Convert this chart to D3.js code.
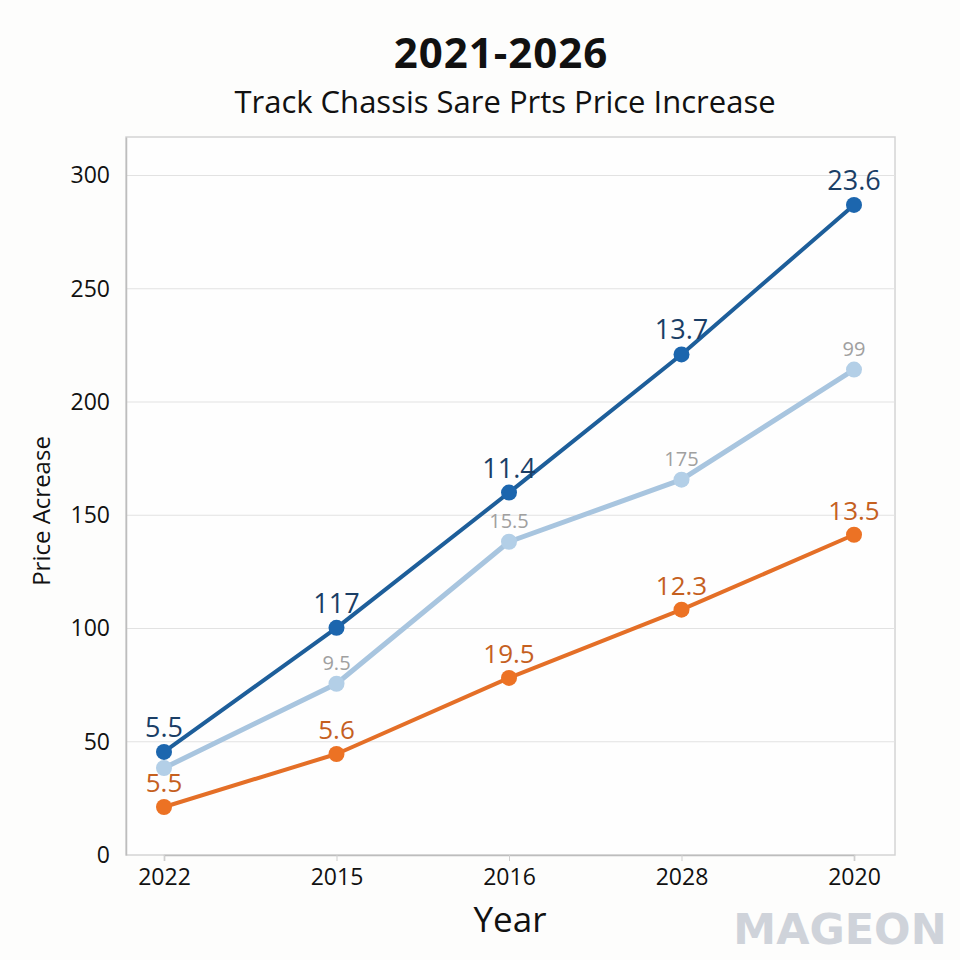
<!DOCTYPE html>
<html>
<head>
<meta charset="utf-8">
<script src="https://cdn.jsdelivr.net/npm/d3@7"></script>
<style>
  body { margin: 0; background: #fdfdfc; }
  svg { display: block; font-family: "Open Sans", "Noto Sans", sans-serif; }
</style>
</head>
<body>
<div id="chart"></div>
<script>
// categories on the x axis (as printed)
let years = ['2022', '2015', '2016', '2028', '2020']
let yTicks = [0, 50, 100, 150, 200, 250, 300]

// series values
let darkValues = [45.5, 100.3, 160, 221, 287]
let lightValues = [38.4, 75.6, 138.3, 165.7, 214.3]
let orangeValues = [21.2, 44.6, 78.2, 108.3, 141.4]

// printed point labels
let darkLabels = ['5.5', '117', '11.4', '13.7', '23.6']
let lightLabels = ['', '9.5', '15.5', '175', '99']
let orangeLabels = ['5.5', '5.6', '19.5', '12.3', '13.5']

let width = 960, height = 960
let margin = {left: 126, right: 65, top: 137, bottom: 105}
let plotW = width - margin.left - margin.right
let plotH = height - margin.top - margin.bottom
let font = '"Open Sans", "Noto Sans", sans-serif'

let svg = d3.select('#chart').append('svg')
    .attr('width', width)
    .attr('height', height)

svg.append('rect').attr('width', width).attr('height', height).attr('fill', '#fdfdfc')

let x = d3.scalePoint().domain(years).range([38, plotW - 41])
let y = d3.scaleLinear().domain([0, 317]).range([plotH, 0])

let g = svg.append('g').attr('transform', `translate(${margin.left},${margin.top})`)

// plot frame
g.append('rect')
    .attr('width', plotW).attr('height', plotH)
    .attr('fill', '#fefefe').attr('stroke', '#d4d4d4').attr('stroke-width', 1.5)

// gridlines
g.selectAll('.grid').data(yTicks.filter(d => d > 0)).enter().append('line')
    .attr('x1', 0).attr('x2', plotW)
    .attr('y1', d => y(d)).attr('y2', d => y(d))
    .attr('stroke', '#e2e2e2').attr('stroke-width', 1.2)

// y axis
let yAxis = g.append('g').call(d3.axisLeft(y).tickValues(yTicks).tickSize(0).tickPadding(16))
yAxis.attr('font-family', font)
yAxis.select('.domain').attr('stroke', '#bdbdbd').attr('stroke-width', 1.5)
yAxis.selectAll('text').attr('font-size', 23).attr('fill', '#111')

// x axis
let xAxis = g.append('g').attr('transform', `translate(0,${plotH})`)
    .call(d3.axisBottom(x).tickSize(6).tickPadding(8))
xAxis.attr('font-family', font)
xAxis.select('.domain').attr('stroke', '#bdbdbd').attr('stroke-width', 1.5)
xAxis.selectAll('.tick line').attr('stroke', '#cfcfcf')
xAxis.selectAll('text').attr('font-size', 23).attr('fill', '#111')

let series = [
    {values: lightValues, labels: lightLabels, line: '#a8c5df', dot: '#b3cfe7', text: '#a0a0a0', lw: 5, fs: 20, dy: 14},
    {values: orangeValues, labels: orangeLabels, line: '#e46f27', dot: '#ec7224', text: '#c5601f', lw: 4, fs: 26, dy: 15},
    {values: darkValues, labels: darkLabels, line: '#1d5e9a', dot: '#1c66ae', text: '#1a3e66', lw: 4, fs: 27, dy: 15}
]

let line = d3.line().x((d, i) => x(years[i])).y(d => y(d))

series.forEach(s => {
    g.append('path').datum(s.values)
        .attr('d', line)
        .attr('fill', 'none')
        .attr('stroke', s.line)
        .attr('stroke-width', s.lw)
        .attr('stroke-linejoin', 'round')

    g.selectAll(null).data(s.values).enter().append('circle')
        .attr('cx', (d, i) => x(years[i]))
        .attr('cy', d => y(d))
        .attr('r', 8)
        .attr('fill', s.dot)

    g.selectAll(null).data(s.values).enter().append('text')
        .attr('x', (d, i) => x(years[i]))
        .attr('y', d => y(d) - s.dy)
        .attr('text-anchor', 'middle')
        .attr('font-size', s.fs)
        .attr('fill', s.text)
        .text((d, i) => s.labels[i])
})

// titles
svg.append('text').attr('x', 501).attr('y', 68)
    .attr('text-anchor', 'middle').attr('font-size', 42).attr('font-weight', 'bold')
    .attr('letter-spacing', 1)
    .attr('fill', '#111').text('2021-2026')
svg.append('text').attr('x', 505).attr('y', 113)
    .attr('text-anchor', 'middle').attr('font-size', 31)
    .attr('fill', '#111').text('Track Chassis Sare Prts Price Increase')

// axis titles
svg.append('text').attr('x', 510).attr('y', 932)
    .attr('text-anchor', 'middle').attr('font-size', 35).attr('fill', '#111').text('Year')
svg.append('text')
    .attr('transform', 'translate(50,511) rotate(-90)')
    .attr('text-anchor', 'middle').attr('font-size', 24).attr('fill', '#111').text('Price Acrease')

// watermark
svg.append('text').attr('x', 840).attr('y', 944)
    .attr('text-anchor', 'middle').attr('font-size', 43).attr('font-weight', 'bold')
    .attr('fill', '#cfd3da').attr('font-family', 'DejaVu Sans, sans-serif')
    .text('MAGEON')
</script>
</body>
</html>
